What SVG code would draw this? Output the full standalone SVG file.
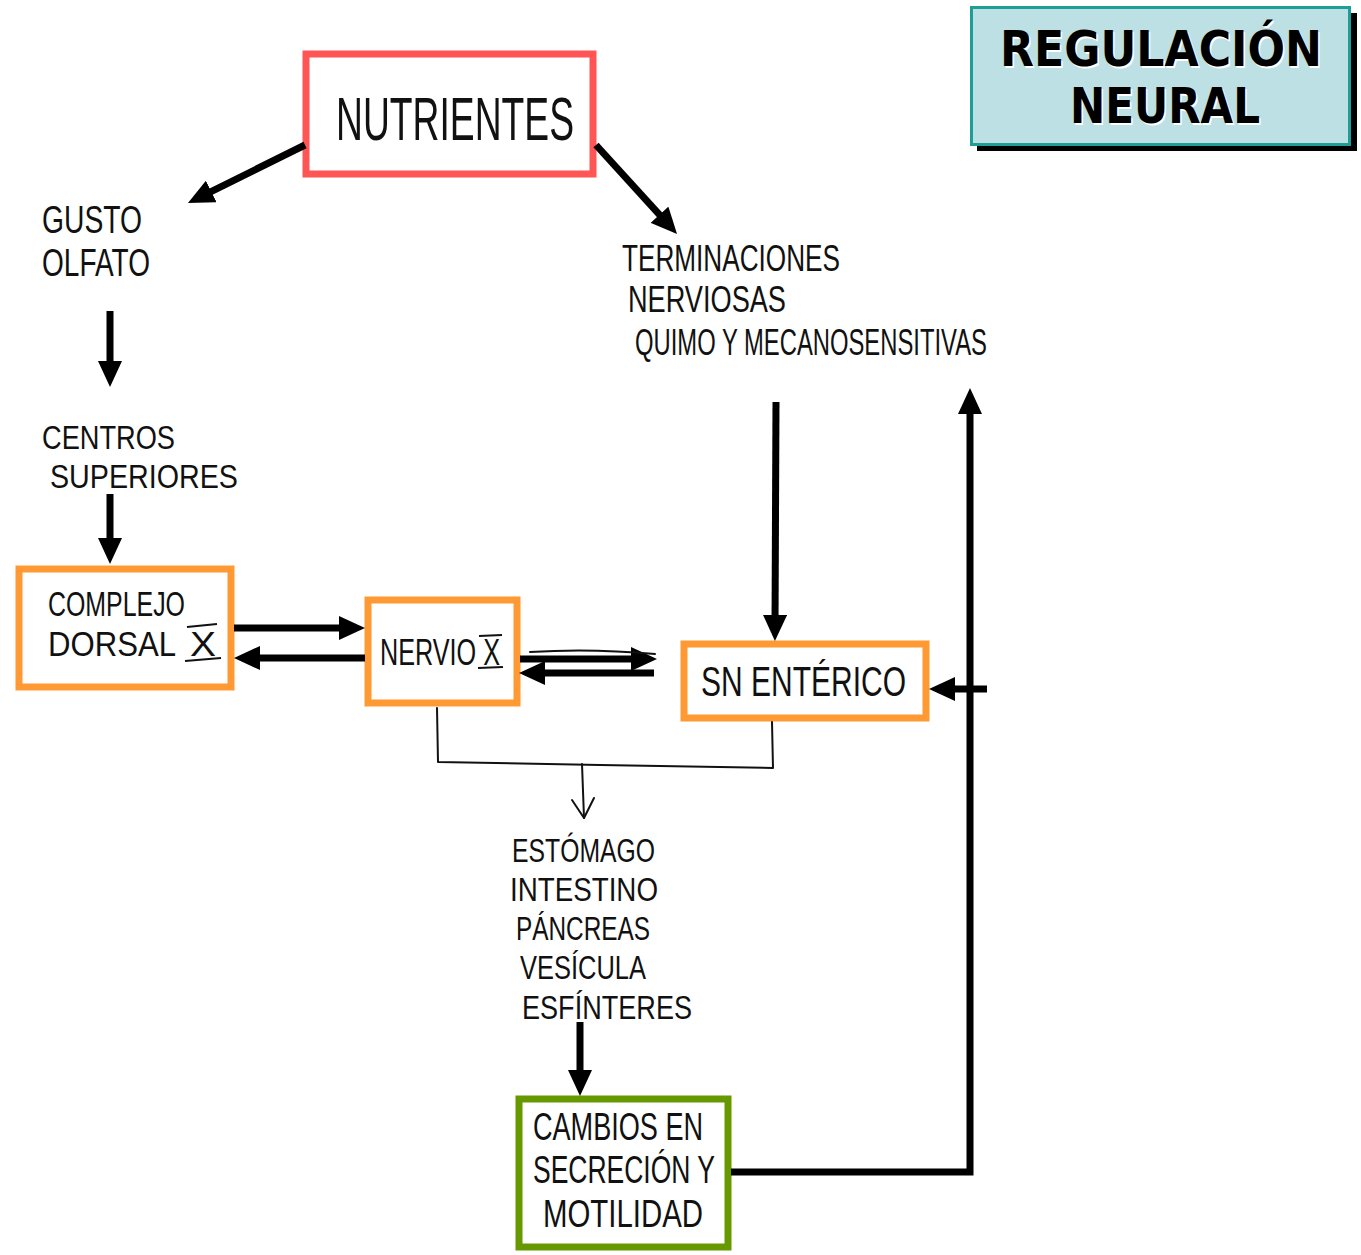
<svg xmlns="http://www.w3.org/2000/svg" width="1361" height="1255" viewBox="0 0 1361 1255">
  <defs>
    <style>
      .hand { font-family: "Liberation Sans", "Arimo", "DejaVu Sans", sans-serif; font-weight: normal; fill: #111; }
      .title { font-family: "DejaVu Sans", "Liberation Sans", sans-serif; font-weight: bold; font-size: 49px; }
      .box { fill: #ffffff; stroke-width: 7; }
      .red { stroke: #ff5555; }
      .orange { stroke: #ff9933; }
      .green { stroke: #669900; }
      .thick { fill: none; stroke: #000; stroke-width: 7; marker-end: url(#head); }
      .thin { fill: none; stroke: #111; stroke-width: 2; stroke-linejoin: round; stroke-linecap: round; }
      .bar { stroke: #111; stroke-width: 2; }
    </style>
    <marker id="head" markerUnits="userSpaceOnUse" markerWidth="26" markerHeight="24" refX="12" refY="12" orient="auto" viewBox="0 0 26 24">
      <path d="M0,0 L26,12 L0,24 Z" fill="#000"/>
    </marker>
  </defs>

  <rect x="0" y="0" width="1361" height="1255" fill="#ffffff"/>

  <!-- title panel -->
  <g id="title">
    <rect x="977" y="13" width="380" height="138" fill="#000"/>
    <rect x="971.5" y="7.5" width="378" height="137" fill="#bde0e4" stroke="#1f9e98" stroke-width="3"/>
    <text class="title" fill="#ffffff" x="1162.5" y="67.5" text-anchor="middle" textLength="322" lengthAdjust="spacingAndGlyphs">REGULACIÓN</text>
    <text class="title" fill="#ffffff" x="1166.5" y="124.5" text-anchor="middle" textLength="190" lengthAdjust="spacingAndGlyphs">NEURAL</text>
    <text class="title" fill="#000" x="1161" y="66" text-anchor="middle" textLength="322" lengthAdjust="spacingAndGlyphs">REGULACIÓN</text>
    <text class="title" fill="#000" x="1165" y="123" text-anchor="middle" textLength="190" lengthAdjust="spacingAndGlyphs">NEURAL</text>
  </g>

  <!-- boxed nodes -->
  <g id="nutrientes">
    <rect class="box red" x="306" y="54" width="287" height="120"/>
    <text class="hand" x="336" y="140" font-size="62" textLength="238" lengthAdjust="spacingAndGlyphs">NUTRIENTES</text>
  </g>

  <g id="complejo-dorsal">
    <rect class="box orange" x="19" y="569" width="212" height="118"/>
    <text class="hand" x="48" y="616" font-size="35" textLength="137" lengthAdjust="spacingAndGlyphs">COMPLEJO</text>
    <text class="hand" x="48" y="656" font-size="35" textLength="128" lengthAdjust="spacingAndGlyphs">DORSAL</text>
    <text class="hand" x="190" y="656" font-size="35" textLength="26" lengthAdjust="spacingAndGlyphs">X</text>
    <line class="bar" x1="187" y1="627" x2="217" y2="624"/>
    <line class="bar" x1="185" y1="661" x2="221" y2="658"/>
  </g>

  <g id="nervio-x">
    <rect class="box orange" x="368" y="600" width="149" height="103"/>
    <text class="hand" x="380" y="665" font-size="36" textLength="120" lengthAdjust="spacingAndGlyphs">NERVIO X</text>
    <line class="bar" x1="479" y1="636" x2="502" y2="635"/>
    <line class="bar" x1="478" y1="668" x2="503" y2="667"/>
  </g>

  <g id="sn-enterico">
    <rect class="box orange" x="684" y="644" width="242" height="74"/>
    <text class="hand" x="701" y="696" font-size="42" textLength="205" lengthAdjust="spacingAndGlyphs">SN ENTÉRICO</text>
  </g>

  <g id="cambios">
    <rect class="box green" x="519" y="1099" width="209" height="148"/>
    <text class="hand" x="533" y="1140" font-size="38" textLength="170" lengthAdjust="spacingAndGlyphs">CAMBIOS EN</text>
    <text class="hand" x="533" y="1183" font-size="38" textLength="182" lengthAdjust="spacingAndGlyphs">SECRECIÓN Y</text>
    <text class="hand" x="543" y="1227" font-size="38" textLength="160" lengthAdjust="spacingAndGlyphs">MOTILIDAD</text>
  </g>

  <!-- free-standing labels -->
  <g id="gusto-olfato">
    <text class="hand" x="42" y="233" font-size="38" textLength="100" lengthAdjust="spacingAndGlyphs">GUSTO</text>
    <text class="hand" x="42" y="276" font-size="38" textLength="108" lengthAdjust="spacingAndGlyphs">OLFATO</text>
  </g>

  <g id="centros-superiores">
    <text class="hand" x="42" y="449" font-size="34" textLength="133" lengthAdjust="spacingAndGlyphs">CENTROS</text>
    <text class="hand" x="50" y="488" font-size="34" textLength="188" lengthAdjust="spacingAndGlyphs">SUPERIORES</text>
  </g>

  <g id="terminaciones">
    <text class="hand" x="622" y="271" font-size="36" textLength="218" lengthAdjust="spacingAndGlyphs">TERMINACIONES</text>
    <text class="hand" x="628" y="312" font-size="36" textLength="158" lengthAdjust="spacingAndGlyphs">NERVIOSAS</text>
    <text class="hand" x="635" y="355" font-size="36" textLength="352" lengthAdjust="spacingAndGlyphs">QUIMO Y MECANOSENSITIVAS</text>
  </g>

  <g id="organos">
    <text class="hand" x="512" y="862" font-size="34" textLength="143" lengthAdjust="spacingAndGlyphs">ESTÓMAGO</text>
    <text class="hand" x="510" y="901" font-size="34" textLength="148" lengthAdjust="spacingAndGlyphs">INTESTINO</text>
    <text class="hand" x="516" y="940" font-size="34" textLength="134" lengthAdjust="spacingAndGlyphs">PÁNCREAS</text>
    <text class="hand" x="520" y="979" font-size="34" textLength="126" lengthAdjust="spacingAndGlyphs">VESÍCULA</text>
    <text class="hand" x="522" y="1019" font-size="34" textLength="170" lengthAdjust="spacingAndGlyphs">ESFÍNTERES</text>
  </g>

  <!-- connectors -->
  <g id="connectors">
    <line class="thick" x1="305" y1="145" x2="200.5" y2="196.8"/>
    <line class="thick" x1="596" y1="145" x2="667.6" y2="223.6"/>
    <line class="thick" x1="110" y1="311" x2="110" y2="373"/>
    <line class="thick" x1="110" y1="494" x2="110" y2="550"/>
    <line class="thick" x1="234" y1="628" x2="351" y2="628"/>
    <line class="thick" x1="365" y1="658" x2="248" y2="658"/>
    <line class="thick" x1="520" y1="659" x2="643" y2="659"/>
    <line class="thick" x1="654" y1="673" x2="533" y2="673"/>
    <path class="thin" d="M530,652 Q590,648 655,654"/>
    <line class="thick" x1="776" y1="402" x2="775" y2="627"/>
    <line class="thick" x1="580" y1="1022" x2="580" y2="1082"/>
    <path class="thick" d="M731,1172 H970 V402"/>
    <line class="thick" x1="987" y1="689" x2="943" y2="689"/>
    <!-- bracket joining Nervio X and SN entérico -->
    <path class="thin" d="M437,708 L438,762 L600,765 L773,768 L772,722"/>
    <path class="thin" d="M582,764 L584,818"/>
    <path class="thin" d="M572,800 L584,818 L594,798"/>
  </g>
</svg>
